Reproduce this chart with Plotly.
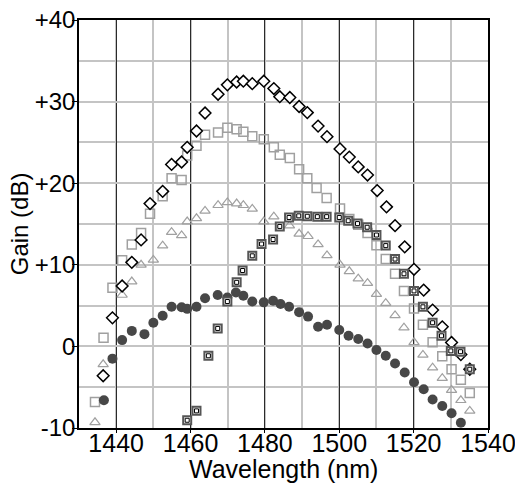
import plotly.graph_objects as go

# Open diamonds (black)
dia_x = [1436.5, 1439.0, 1441.6, 1444.2, 1446.7, 1449.1, 1452.5, 1454.9, 1457.6, 1459.1,
         1461.6, 1463.9, 1467.4, 1469.9, 1472.4, 1474.2, 1476.6, 1479.7, 1482.4, 1484.0,
         1486.7, 1489.2, 1491.4, 1494.3, 1496.7, 1500.2, 1502.7, 1505.1, 1507.6, 1510.2,
         1512.7, 1515.0, 1517.6, 1520.1, 1522.7, 1525.1, 1527.7, 1530.2, 1532.7, 1535.1]
dia_y = [-3.6, 3.5, 7.4, 10.3, 13.05, 17.5, 19.0, 22.3, 22.6, 24.4,
         26.4, 28.6, 30.9, 32.05, 32.4, 32.5, 32.2, 32.5, 31.6, 30.6,
         30.5, 29.4, 28.65, 27.0, 25.7, 24.2, 23.2, 22.0, 21.0, 19.1,
         17.1, 14.8, 12.2, 9.45, 6.9, 4.45, 2.4, 0.48, -1.0, -2.8]

# Open squares (light gray)
sq_x = [1434.3, 1436.6, 1439.0, 1441.6, 1444.2, 1446.7, 1449.1, 1452.5, 1454.9, 1457.6,
        1459.1, 1461.6, 1463.9, 1467.4, 1469.9, 1472.4, 1474.2, 1476.6, 1479.7, 1482.4,
        1484.0, 1486.7, 1489.2, 1491.4, 1493.9, 1496.6, 1500.2, 1502.7, 1505.1, 1507.6,
        1510.0, 1512.5, 1515.0, 1517.4, 1520.1, 1522.5, 1525.1, 1527.7, 1530.2, 1532.7, 1535.1]
sq_y = [-6.8, 1.05, 7.2, 10.55, 12.5, 13.9, 16.25, 18.4, 20.6, 20.4,
        23.4, 24.6, 25.95, 26.2, 26.8, 26.6, 26.3, 25.75, 25.4, 24.4,
        23.5, 23.1, 21.7, 20.6, 19.4, 18.2, 16.9, 15.6, 14.9, 13.9,
        12.4, 10.7, 8.9, 6.8, 4.65, 2.65, 0.5, -1.2, -2.8, -4.1, -5.7]

# Open triangles (light gray)
tri_x = [1434.3, 1436.5, 1441.6, 1444.2, 1446.7, 1450.0, 1452.5, 1454.9, 1457.6, 1459.1,
         1461.6, 1463.9, 1467.4, 1469.9, 1472.4, 1474.2, 1476.6, 1479.7, 1482.4, 1486.6,
         1489.2, 1491.6, 1494.3, 1496.7, 1500.2, 1502.7, 1505.1, 1507.6, 1510.0, 1512.5,
         1515.0, 1517.4, 1520.1, 1522.5, 1525.1, 1527.7, 1530.2, 1532.7, 1535.1]
tri_y = [-9.3, -2.2, 6.3, 7.95, 10.0, 10.6, 12.35, 14.0, 13.6, 15.3,
         15.7, 16.6, 17.3, 17.65, 17.5, 17.3, 16.85, 15.3, 15.9, 14.8,
         13.8, 13.5, 12.5, 11.15, 10.0, 9.2, 8.3, 7.75, 6.4, 5.3,
         3.8, 2.3, 0.5, -1.05, -2.6, -3.9, -5.35, -6.6, -7.9]

# Filled circles (dark gray)
cir_x = [1436.7, 1439.0, 1441.6, 1444.2, 1447.6, 1450.0, 1452.5, 1454.9, 1457.6, 1459.1,
         1461.6, 1463.9, 1467.3, 1469.9, 1472.2, 1474.2, 1476.6, 1479.7, 1482.2, 1484.2,
         1486.5, 1489.2, 1491.6, 1494.3, 1496.7, 1500.0, 1502.5, 1505.1, 1507.6, 1510.0,
         1512.5, 1515.0, 1517.6, 1520.1, 1522.7, 1525.1, 1527.7, 1530.2, 1532.7]
cir_y = [-6.6, -1.5, 0.77, 1.9, 1.5, 2.9, 3.75, 4.85, 4.8, 4.6,
         4.85, 5.9, 6.3, 6.0, 6.6, 6.2, 5.5, 5.4, 5.6, 5.2,
         4.85, 4.2, 3.65, 2.4, 2.65, 2.0, 1.3, 0.9, 0.35, -0.45,
         -1.15, -2.1, -3.2, -4.4, -5.25, -6.5, -7.3, -8.2, -9.35]

# Framed squares (dark frame with small inner square)
fsq_x = [1459.1, 1461.6, 1464.8, 1467.3, 1469.9, 1472.4, 1474.0, 1476.6, 1479.1, 1482.2,
         1484.0, 1486.5, 1489.1, 1491.4, 1494.1, 1496.6, 1500.0, 1502.4, 1504.9, 1507.5,
         1510.0, 1512.5, 1515.0, 1517.4, 1520.1, 1522.5, 1525.1, 1527.5, 1530.0, 1532.6, 1535.1]
fsq_y = [-9.05, -7.9, -1.15, 2.2, 5.5, 7.85, 9.3, 11.1, 12.55, 13.1,
         14.7, 15.8, 16.0, 15.95, 15.9, 15.9, 15.8, 15.4, 15.05, 14.6,
         13.65, 12.35, 10.7, 8.9, 6.8, 4.85, 2.9, 1.3, -0.55, -0.65, -2.8]

y_tickvals = [-10, 0, 10, 20, 30, 40]
y_ticktext = ["-10", "0", "+10", "+20", "+30", "+40"]
x_tickvals = [1440, 1460, 1480, 1500, 1520, 1540]
x_title = "Wavelength (nm)"
y_title = "Gain (dB)"

FONT = "Liberation Sans, Arial, sans-serif"

fig = go.Figure()
fig.add_trace(go.Scatter(x=tri_x, y=tri_y, mode="markers",
                         marker=dict(symbol="triangle-up-open", size=9, color="#a0a0a0",
                                     line=dict(width=1.2, color="#a0a0a0"))))
fig.add_trace(go.Scatter(x=sq_x, y=sq_y, mode="markers",
                         marker=dict(symbol="square-open", size=9, color="#a0a0a0",
                                     line=dict(width=1.5, color="#a0a0a0"))))
fig.add_trace(go.Scatter(x=cir_x, y=cir_y, mode="markers",
                         marker=dict(symbol="circle", size=10, color="#474747",
                                     line=dict(width=0))))
fig.add_trace(go.Scatter(x=dia_x, y=dia_y, mode="markers",
                         marker=dict(symbol="diamond", size=9, color="white",
                                     line=dict(width=1.5, color="black"))))
fig.add_trace(go.Scatter(x=fsq_x, y=fsq_y, mode="markers",
                         marker=dict(symbol="square", size=8, color="white",
                                     line=dict(width=2, color="#555555"))))
fig.add_trace(go.Scatter(x=fsq_x, y=fsq_y, mode="markers",
                         marker=dict(symbol="square-open", size=4, color="black",
                                     line=dict(width=1, color="black"))))

fig.update_layout(
    width=515, height=484,
    margin=dict(l=79, r=27, t=20, b=56),
    paper_bgcolor="white", plot_bgcolor="white",
    showlegend=False,
    font=dict(family=FONT, size=24, color="black"),
    xaxis=dict(range=[1430, 1540], tickvals=x_tickvals, automargin=False,
               showgrid=True, gridcolor="#2a2a2a", gridwidth=1,
               minor=dict(dtick=10, tick0=1430, showgrid=True, gridcolor="#c4c4c4", gridwidth=1.5),
               showline=True, linecolor="black", linewidth=1.5, mirror=True,
               ticks="outside", ticklen=3, tickcolor="black",
               ticklabelstandoff=-11, ticklabeloverflow="allow",
               zeroline=False,
               tickfont=dict(size=25)),
    yaxis=dict(range=[-10, 40], tickvals=y_tickvals, ticktext=y_ticktext, automargin=False,
               showgrid=True, gridcolor="#c4c4c4", gridwidth=1.5,
               minor=dict(dtick=5, tick0=-10, showgrid=True, gridcolor="#c4c4c4", gridwidth=1.5),
               showline=True, linecolor="black", linewidth=1.5, mirror=True,
               ticks="outside", ticklen=5, tickcolor="black",
               ticklabelstandoff=-8, ticklabeloverflow="allow",
               zeroline=False,
               tickfont=dict(size=24)),
    annotations=[
        dict(text=x_title, xref="paper", yref="paper", x=0.5, y=-0.1,
             xanchor="center", yanchor="middle", showarrow=False,
             font=dict(size=25, family=FONT, color="black")),
        dict(text=y_title, xref="paper", yref="paper", x=-0.146, y=0.5,
             xanchor="center", yanchor="middle", showarrow=False, textangle=-90,
             font=dict(size=24, family=FONT, color="black")),
    ],
)

fig.write_html("out.html", config={"displayModeBar": False},
               post_script="document.body.style.margin='0';document.body.style.padding='0';")
